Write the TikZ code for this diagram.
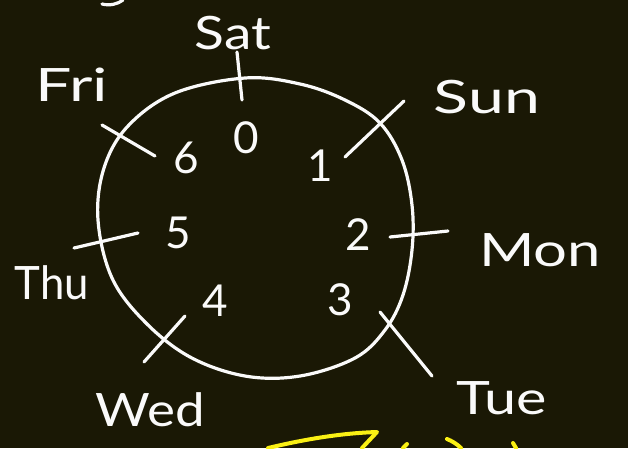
\documentclass[tikz,border=0pt]{standalone}
\usepackage{fontspec}
\setmainfont{Lato}
\definecolor{board}{RGB}{26,24,5}
\definecolor{chalk}{RGB}{250,250,250}
\definecolor{hl}{RGB}{250,240,20}
\begin{document}
\begin{tikzpicture}[x=1pt,y=-1pt,
  stroke/.style={draw=chalk,line width=3.2pt,line cap=round,line join=round},
  ystroke/.style={draw=hl,line width=4pt,line cap=round,line join=round},
  num/.style={text=chalk,font=\fontsize{44}{44}\selectfont,inner sep=0pt},
  day/.style={text=chalk,font=\fontsize{46}{46}\selectfont,inner sep=0pt}]
\fill[board] (0,0) rectangle (628,448);
\useasboundingbox (0,0) rectangle (628,448);
% ring
\draw[stroke] plot[smooth cycle,tension=0.6] coordinates {
  (245,78) (300,84) (345,100) (380,123) (402,160) (412,205) (412,250)
  (403,295) (385,330) (355,358) (300,376) (245,376) (190,357) (145,322)
  (112,278) (98,220) (104,168) (128,126) (175,93)};
% tick marks
\coordinate (satA) at (237,52); \coordinate (satB) at (242,100);
\coordinate (sunA) at (404,101); \coordinate (sunB) at (345,157);
\coordinate (monA) at (390,237); \coordinate (monB) at (448,231);
\coordinate (tueA) at (380,312); \coordinate (tueB) at (432,376);
\coordinate (wedA) at (185,316); \coordinate (wedB) at (144,362);
\coordinate (thuA) at (74,248);  \coordinate (thuB) at (138,233);
\coordinate (friA) at (102,125); \coordinate (friB) at (155,156);
\foreach \a/\b in {satA/satB,sunA/sunB,monA/monB,tueA/tueB,wedA/wedB,thuA/thuB,friA/friB}
  \draw[stroke] (\a) -- (\b);
% numbers
\node[num] (n0) at (246,138) {0};
\node[num] (n1) at (320,166) {1};
\node[num] (n2) at (358,235) {2};
\node[num] (n3) at (340,300) {3};
\node[num] (n4) at (215,301) {4};
\node[num] (n5) at (178,233) {5};
\node[num] (n6) at (186,158) {6};
% day labels
\node[day,xscale=1.2] (sat) at (233,33) {Sat};
\node[day,xscale=1.4] (sun) at (487,97) {Sun};
\node[day,xscale=1.3] (mon) at (540,250) {Mon};
\node[day,xscale=1.25] (tue) at (502,398) {Tue};
\node[day,xscale=1.15] (wed) at (150,410) {Wed};
\node[day,xscale=0.95] (thu) at (52,283) {Thu};
\node[day,xscale=1.4] (fri) at (72,85) {Fri};
% partial stroke at top
\draw[stroke] (102,4) .. controls (110,6) and (118,4) .. (123,0);
% yellow strokes at the bottom
\draw[ystroke] (268,448) .. controls (310,438) and (345,433) .. (377,432) -- (362,448);
\draw[ystroke] (403,448) -- (407,444);
\draw[ystroke] (447,439) .. controls (452,441) and (457,444) .. (461,448);
\draw[ystroke] (513,443) -- (516,448);
\end{tikzpicture}
\end{document}
